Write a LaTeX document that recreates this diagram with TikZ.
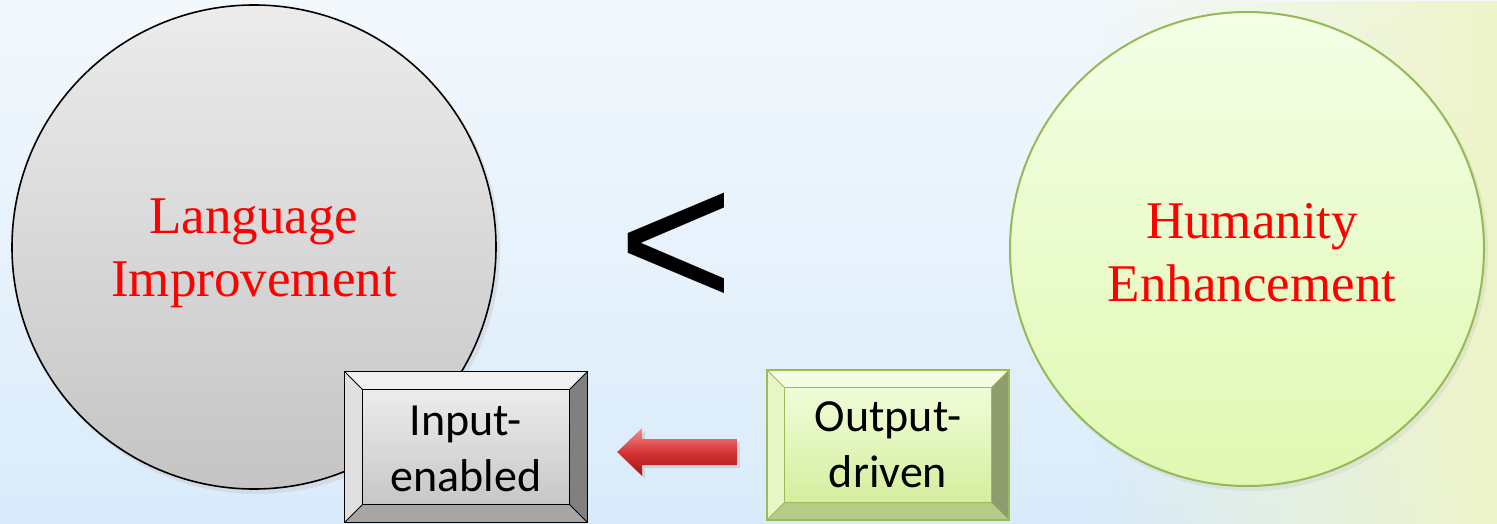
\documentclass[tikz,border=0pt]{standalone}
\usepackage{fontspec}
\setmainfont{Liberation Serif}
\newfontfamily\boxfont{Carlito}
\newfontfamily\symfont{Liberation Sans}
\usetikzlibrary{calc,fadings}
\pgfdeclarelayer{bg}
\pgfdeclarelayer{mid}
\pgfsetlayers{bg,mid,main}
\definecolor{bgtop}{HTML}{F3F8FC}
\definecolor{bgbot}{HTML}{D9EBFB}
\definecolor{bgyel}{HTML}{EEF4C8}
\definecolor{grayTop}{HTML}{ECECEC}
\definecolor{grayBot}{HTML}{C4C4C4}
\definecolor{grnTop}{HTML}{F4FFE6}
\definecolor{grnBot}{HTML}{E0F8B2}
\definecolor{grnLine}{HTML}{92BB56}
\definecolor{boxGrnLine}{HTML}{9BBB59}
\definecolor{bxInTop}{HTML}{F0FDD8}
\definecolor{bxInBot}{HTML}{D4EE9E}
\definecolor{bxTopF}{HTML}{F3FDE2}
\definecolor{bxLeftF}{HTML}{E6F6C4}
\definecolor{bxRightF}{HTML}{8F9D6E}
\definecolor{bxBotF}{HTML}{B6CB8A}
\definecolor{redTop}{HTML}{F29090}
\definecolor{redMid}{HTML}{D63434}
\definecolor{redBot}{HTML}{A31414}
\tikzset{
  circtext/.style={text=red, align=center, font=\fontsize{53}{63}\selectfont},
  boxtext/.style={text=black, align=center, font=\boxfont\fontsize{46}{56}\selectfont},
  boxsize/.style={minimum width=242pt, minimum height=150pt, inner sep=0pt},
}
\begin{document}
\begin{tikzpicture}[x=1pt,y=-1pt]
\useasboundingbox (0,0) rectangle (1497,524);
\begin{pgfonlayer}{bg}
  \shade[top color=bgtop, bottom color=bgbot] (0,0) rectangle (1497,524);
  \fill[bgyel, path fading=west] (1100,0) rectangle (1497,524);
  % circles
  \fill[black!25, opacity=0.35] (257,251) circle (243);
  \shade[top color=grayTop, bottom color=grayBot, draw=black, line width=1.6pt] (254,247) circle (242);
  \fill[black!25, opacity=0.25] (1250,253) circle (238);
  \shade[top color=grnTop, bottom color=grnBot, draw=grnLine, line width=2pt] (1247,249) circle (237);
\end{pgfonlayer}

\node[circtext] (lang) at (254,253) {Language\\Improvement};
\node[circtext] (hum) at (1252,253) {Humanity\\Enhancement};
\node[font=\symfont\fontsize{198}{198}\selectfont, inner sep=0pt] (lt) at (676,251) {<};

% boxes
\node[boxsize] (inbox) at (466,447) {};
\node[boxsize] (outbox) at (888,445) {};
\node[boxtext] (intext) at ($(inbox.center)+(0,2)$) {Input-\\enabled};
\node[boxtext] (outtext) at ($(outbox.center)+(0,0)$) {Output-\\driven};

\begin{pgfonlayer}{mid}
  % gray bevel box
  \shade[top color=grayTop, bottom color=black!22] ($(inbox.north west)+(18,18)$) rectangle ($(inbox.south east)+(-18,-18)$);
  \fill[black!6] (inbox.north west) -- (inbox.north east) -- ($(inbox.north east)+(-18,18)$) -- ($(inbox.north west)+(18,18)$) -- cycle;
  \fill[black!12] (inbox.north west) -- ($(inbox.north west)+(18,18)$) -- ($(inbox.south west)+(18,-18)$) -- (inbox.south west) -- cycle;
  \fill[black!50] (inbox.north east) -- ($(inbox.north east)+(-18,18)$) -- ($(inbox.south east)+(-18,-18)$) -- (inbox.south east) -- cycle;
  \fill[black!35] (inbox.south west) -- ($(inbox.south west)+(18,-18)$) -- ($(inbox.south east)+(-18,-18)$) -- (inbox.south east) -- cycle;
  \draw[black, line width=1.3pt] (inbox.north west) rectangle (inbox.south east);
  \draw[black, line width=1.1pt] ($(inbox.north west)+(18,18)$) rectangle ($(inbox.south east)+(-18,-18)$);
  \draw[black, line width=1pt] (inbox.north west) -- ++(18,18) (inbox.north east) -- ++(-18,18) (inbox.south west) -- ++(18,-18) (inbox.south east) -- ++(-18,-18);
  % green bevel box
  \shade[top color=bxInTop, bottom color=bxInBot] ($(outbox.north west)+(18,18)$) rectangle ($(outbox.south east)+(-18,-18)$);
  \fill[bxTopF] (outbox.north west) -- (outbox.north east) -- ($(outbox.north east)+(-18,18)$) -- ($(outbox.north west)+(18,18)$) -- cycle;
  \fill[bxLeftF] (outbox.north west) -- ($(outbox.north west)+(18,18)$) -- ($(outbox.south west)+(18,-18)$) -- (outbox.south west) -- cycle;
  \fill[bxRightF] (outbox.north east) -- ($(outbox.north east)+(-18,18)$) -- ($(outbox.south east)+(-18,-18)$) -- (outbox.south east) -- cycle;
  \fill[bxBotF] (outbox.south west) -- ($(outbox.south west)+(18,-18)$) -- ($(outbox.south east)+(-18,-18)$) -- (outbox.south east) -- cycle;
  \draw[boxGrnLine, line width=1.5pt] (outbox.north west) rectangle (outbox.south east);
  \draw[boxGrnLine, line width=1.2pt] ($(outbox.north west)+(18,18)$) rectangle ($(outbox.south east)+(-18,-18)$);
  \draw[boxGrnLine, line width=1pt] (outbox.north west) -- ++(18,18) (outbox.north east) -- ++(-18,18) (outbox.south west) -- ++(18,-18) (outbox.south east) -- ++(-18,-18);
\end{pgfonlayer}

% red arrow from outbox to inbox
\coordinate (atail) at ($(outbox.west)+(-30,7)$);
\coordinate (ahead) at ($(inbox.east)+(30,5)$);
\fill[black!30, opacity=0.4] ($(ahead)+(3,3)$) -- ++(25,-24) -- ++(0,11) -- ($(atail)+(3,-10)$) -- ++(0,26) -- ($(ahead)+(28,16)$) -- ++(0,11) -- cycle;
\shade[top color=redTop, bottom color=redBot, middle color=redMid] (ahead) -- ++(25,-24) -- ++(0,11) -- ($(atail)+(0,-13)$) -- ++(0,26) -- ($(ahead)+(25,13)$) -- ++(0,11) -- cycle;
\end{tikzpicture}
\end{document}
